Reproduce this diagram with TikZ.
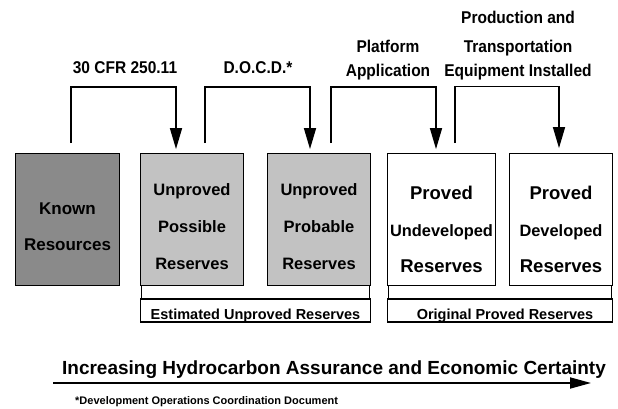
\documentclass[tikz,border=0pt]{standalone}
\usepackage{fontspec}
\setmainfont{Liberation Sans}
\usetikzlibrary{arrows.meta}
\definecolor{knowngray}{HTML}{8A8A8A}
\definecolor{unprovedgray}{HTML}{C2C2C2}
\begin{document}
\begin{tikzpicture}[x=1pt,y=-1pt,
  resbox/.style={draw, line width=1.8pt, minimum height=132pt, inner sep=0pt},
  boxtext/.style={align=center, inner sep=0pt, font=\bfseries\fontsize{16.5}{37}\selectfont},
  stagelabel/.style={align=center, inner sep=0pt, yscale=1.1, transform shape,
    font=\bfseries\fontsize{15.5}{22.1}\selectfont},
  conn/.style={line width=1.5pt, -{Triangle[length=21pt,width=12pt]}},
  groupbox/.style={draw, line width=1.4pt, minimum height=23pt, inner xsep=0pt, inner ysep=1pt,
    text height=19pt, text depth=2pt, font=\bfseries\fontsize{14.5}{17}\selectfont},
  groupline/.style={line width=1.4pt}
]
\useasboundingbox (0,0) rectangle (618,409);

% reserve category boxes
\node[resbox, fill=knowngray,    minimum width=104pt] (kn) at (67.5,219.5) {};
\node[resbox, fill=unprovedgray, minimum width=103pt] (ps) at (192,219.5) {};
\node[resbox, fill=unprovedgray, minimum width=103pt] (pb) at (319,219.5) {};
\node[resbox, fill=white,        minimum width=108pt] (pu) at (441.5,219.5) {};
\node[resbox, fill=white,        minimum width=103pt] (pd) at (561,219.5) {};

% box captions
\node[boxtext, font=\bfseries\fontsize{17}{36}\selectfont] (knt) at (67.5,227) {Known\\Resources};
\node[boxtext] (pst) at (192,227) {Unproved\\Possible\\Reserves};
\node[boxtext] (pbt) at (319,227) {Unproved\\Probable\\Reserves};
\node[boxtext, font=\bfseries\fontsize{18.5}{36.5}\selectfont] (put) at (441.5,229.5)
  {Proved\\{\fontsize{16.4}{20}\selectfont Undeveloped}\\Reserves};
\node[boxtext, font=\bfseries\fontsize{18.5}{36.5}\selectfont] (pdt) at (561,229.5)
  {Proved\\{\fontsize{16.4}{20}\selectfont Developed}\\Reserves};

% transitions between categories
\draw[conn] ([xshift=3.5pt,yshift=9.5pt]kn.north) |- ([xshift=-16pt,yshift=65.5pt]ps.north) -- ([xshift=-16pt,yshift=3.5pt]ps.north);
\draw[conn] ([xshift=13pt,yshift=9.5pt]ps.north) |- ([xshift=-9pt,yshift=65.5pt]pb.north) -- ([xshift=-9pt,yshift=3.5pt]pb.north);
\draw[conn] ([xshift=12pt,yshift=9.5pt]pb.north) |- ([xshift=-5.5pt,yshift=65.5pt]pu.north) -- ([xshift=-5.5pt,yshift=3.5pt]pu.north);
\draw[conn] ([xshift=13.5pt,yshift=9.5pt]pu.north) |- ([xshift=-2pt,yshift=66pt]pd.north) -- ([xshift=-2pt,yshift=4.5pt]pd.north);

% transition labels
\node[stagelabel, anchor=base] (l1) at (125,74) {30 CFR 250.11};
\node[stagelabel, anchor=base] (l2) at (258,74) {D.O.C.D.*};
\node[stagelabel] (l3) at (388,60) {Platform\\Application};
\node[stagelabel] (l4) at (518,45.75) {Production and\\[3.5pt]Transportation\\Equipment Installed};

% grouping brackets
\node[groupbox, minimum width=230pt] (eur) at (255.5,310.5) {Estimated Unproved Reserves};
\node[groupbox, minimum width=225pt] (opr) at (500,310.5) {\hspace*{10pt}Original Proved Reserves};
\draw[groupline] ([xshift=1.5pt]eur.north west) -- ++(0,-13.5);
\draw[groupline] ([xshift=-1.5pt]eur.north east) -- ++(0,-13.5);
\draw[groupline] ([xshift=1.5pt]opr.north west) -- ++(0,-13.5);
\draw[groupline] ([xshift=-1.5pt]opr.north east) -- ++(0,-13.5);

% certainty axis
\coordinate (axs) at (53,383);
\coordinate (axe) at (591,383);
\draw[line width=1.8pt, -{Triangle[length=21pt,width=11pt]}] (axs) -- (axe);
\node[anchor=base, inner sep=0pt, font=\bfseries\fontsize{19}{23}\selectfont] (axt) at (334,374)
  {Increasing Hydrocarbon Assurance and Economic Certainty};
\node[anchor=base west, inner sep=0pt, font=\bfseries\fontsize{11}{13}\selectfont] (fn) at (75,404)
  {*Development Operations Coordination Document};
\end{tikzpicture}
\end{document}
